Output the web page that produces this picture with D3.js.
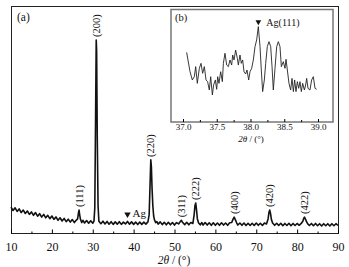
<!DOCTYPE html>
<html>
<head>
<meta charset="utf-8">
<script src="https://cdn.jsdelivr.net/npm/d3@7"></script>
<style>
body { margin: 0; background: #fff; }
text { font-family: "Liberation Serif", "DejaVu Serif", serif; fill: #111; }
</style>
</head>
<body>
<script>
// Size of the picture
var w = 349;
var h = 267;

// Main XRD pattern: [2theta, intensity]
var mainPattern = [
    [10,114],[10.5,99],[11,111],[11.5,95],[12,106],[12.5,90],[13,101],[13.5,86],[14,97],[14.5,82],
    [15,93],[15.5,78],[16,90],[16.5,74],[17,85],[17.5,70],[18,82],[18.5,67],[19,78],[19.5,63],
    [20,75],[20.5,60],[21,71],[21.5,56],[22,67],[22.5,53],[23,64],[23.5,50],[24,61],[24.5,48],
    [25,59],[25.5,46],[26,57],[26.3,62],[26.5,88],[26.65,101],[26.8,80],[27,60],[27.3,46],[27.6,56],
    [28,44],[28.5,55],[29,43],[29.5,54],[30,43],[30.3,52],[30.5,110],[30.7,520],[30.85,850],[30.95,800],
    [31.1,430],[31.3,120],[31.5,52],[32,41],[32.5,52],[33,40],[33.5,51],[34,39],[34.5,50],[35,38],
    [35.5,49],[36,39],[36.5,50],[37,38],[37.5,48],[38,40],[38.5,51],[39,39],[39.5,49],[40,38],
    [40.5,48],[41,37],[41.5,48],[42,38],[42.5,48],[43,39],[43.5,49],[43.8,80],[44.0,200],[44.2,322],
    [44.35,290],[44.5,200],[44.7,120],[44.9,75],[45.1,58],[45.4,46],[45.7,50],[46,39],[46.5,49],[47,37],
    [47.5,47],[48,36],[48.5,47],[49,36],[49.5,46],[50,35],[50.5,46],[51,40],[51.4,50],[51.7,56],
    [52,46],[52.5,37],[53,47],[53.5,36],[54,46],[54.5,42],[54.8,80],[55,120],[55.2,132],[55.4,100],
    [55.6,62],[55.9,44],[56.3,36],[56.7,46],[57,35],[57.5,46],[58,35],[58.5,45],[59,34],[59.5,45],
    [60,34],[60.5,44],[61,34],[61.5,45],[62,35],[62.5,44],[63,34],[63.5,45],[64,46],[64.3,60],
    [64.6,70],[64.9,58],[65.2,45],[65.5,35],[66,44],[66.5,34],[67,44],[67.5,33],[68,43],[68.5,33],
    [69,43],[69.5,33],[70,44],[70.5,34],[71,43],[71.5,33],[72,44],[72.5,40],[72.9,62],[73.1,90],
    [73.3,101],[73.5,85],[73.7,60],[74,44],[74.5,34],[75,43],[75.5,33],[76,43],[76.5,32],[77,42],
    [77.5,33],[78,43],[78.5,32],[79,42],[79.5,33],[80,42],[80.5,34],[81,42],[81.4,52],[81.6,64],
    [81.8,70],[82,62],[82.3,50],[82.6,40],[83,33],[83.5,42],[84,32],[84.5,42],[85,32],[85.5,41],
    [86,31],[86.5,41],[87,32],[87.5,41],[88,31],[88.5,41],[89,32],[89.5,41],[90,33]
];

// Reflection labels and their positions
var hklLabels = ["(111)", "(200)", "(220)", "(311)", "(222)", "(400)", "(420)", "(422)"];
var hklTheta = [26.65, 30.85, 44.2, 51.7, 55.2, 64.6, 73.3, 81.8];
var hklHeight = [101, 850, 322, 56, 132, 70, 101, 70];

// Ag marker in the main pattern
var agMarker = [38.5, 82];

// Axis ticks
var mainTicks = [10, 20, 30, 40, 50, 60, 70, 80, 90];
var mainMinorTicks = [15, 25, 35, 45, 55, 65, 75, 85];
var insetTicks = [37.0, 37.5, 38.0, 38.5, 39.0];
var insetMinorTicks = [37.25, 37.75, 38.25, 38.75];

// Inset pattern around Ag(111): [2theta, intensity]
var insetPattern = [
    [37.054,61.6],[37.104,44.5],[37.138,37.2],[37.168,40.1],[37.188,49.0],[37.212,34.2],[37.242,47.5],[37.267,51.9],[37.291,43.1],[37.316,49.0],
    [37.341,37.2],[37.365,35.7],[37.390,28.3],[37.410,40.1],[37.435,23.9],[37.454,32.8],[37.479,37.2],[37.499,28.9],[37.514,40.1],[37.533,34.2],
    [37.558,44.5],[37.583,35.7],[37.598,51.9],[37.622,60.8],[37.647,50.4],[37.672,49.0],[37.696,54.9],[37.721,50.4],[37.736,59.3],[37.756,54.9],
    [37.780,63.7],[37.805,56.3],[37.820,50.4],[37.844,59.3],[37.864,51.9],[37.884,54.9],[37.904,44.5],[37.928,42.5],[37.948,46.0],[37.973,37.2],
    [37.993,44.5],[38.017,47.5],[38.042,54.9],[38.067,66.7],[38.091,72.6],[38.116,84.4],[38.141,66.7],[38.160,46.0],[38.180,26.9],[38.205,37.2],
    [38.225,51.9],[38.249,66.7],[38.274,71.1],[38.299,66.7],[38.319,49.0],[38.338,28.3],[38.363,47.5],[38.388,66.7],[38.412,71.1],[38.437,66.7],
    [38.457,49.0],[38.486,53.4],[38.511,47.5],[38.526,55.5],[38.546,46.0],[38.570,34.2],[38.595,28.3],[38.615,38.6],[38.635,26.9],[38.654,37.2],
    [38.674,26.9],[38.694,35.7],[38.714,29.8],[38.733,35.7],[38.753,26.9],[38.773,34.2],[38.798,28.3],[38.817,32.8],[38.832,38.6],[38.852,29.8],
    [38.881,28.3],[38.906,37.2],[38.931,40.1],[38.956,29.8],[38.980,28.9]
];
var agPeak = [38.116, 88.5];

// Main scales
var xScale = d3.scaleLinear().domain([10, 90]).range([11, 338]);
var yScale = d3.scaleLinear().domain([0, 1000]).range([233, 6]);

// Inset scales
var xiScale = d3.scaleLinear().domain([37, 39]).range([183, 318]);
var yiScale = d3.scaleLinear().domain([0, 100]).range([122, 9]);

var svg = d3.select("body")
    .append("svg")
    .attr("width", w)
    .attr("height", h);

// Main frame
svg.append("rect")
    .attr("x", 11.5).attr("y", 6.5)
    .attr("width", 327).attr("height", 227)
    .attr("fill", "none")
    .attr("stroke", "#222")
    .attr("stroke-width", 1);

// Bottom axis, ticks pointing inside
var xAxis = d3.axisBottom(xScale)
    .tickValues(mainTicks)
    .tickSize(-4)
    .tickPadding(9)
    .tickFormat(d3.format("d"));
var gx = svg.append("g")
    .attr("transform", "translate(0,233.5)")
    .call(xAxis);
gx.select(".domain").remove();
gx.attr("font-family", null);
gx.selectAll("text")
    .attr("font-size", "12px");

var xMinor = d3.axisBottom(xScale).tickValues(mainMinorTicks).tickSize(-2).tickFormat("");
svg.append("g").attr("transform", "translate(0,233.5)").call(xMinor)
    .select(".domain").remove();

// Axis title
var title = svg.append("text")
    .attr("x", 174)
    .attr("y", 264)
    .attr("text-anchor", "middle")
    .attr("font-size", "11.5px");
title.append("tspan").attr("font-style", "italic").text("2θ");
title.append("tspan").text(" / (°)");

// Panel label
svg.append("text")
    .attr("x", 17).attr("y", 21)
    .attr("font-size", "11.5px")
    .text("(a)");

// Pattern line
var line = d3.line()
    .x(function(d) { return xScale(d[0]); })
    .y(function(d) { return yScale(d[1]); });

svg.append("path")
    .datum(mainPattern)
    .attr("d", line)
    .attr("fill", "none")
    .attr("stroke", "#111")
    .attr("stroke-width", 1.6)
    .attr("stroke-linejoin", "round");

// Rotated reflection labels above the peaks
svg.selectAll(".hkl")
    .data(hklLabels)
    .enter()
    .append("text")
    .attr("class", "hkl")
    .attr("transform", function(d, i) {
        return "translate(" + xScale(hklTheta[i]) + "," + (yScale(hklHeight[i]) - 3) + ") rotate(-90)";
    })
    .attr("dy", "0.35em")
    .attr("font-size", "10.5px")
    .text(function(d) { return d; });

// Ag marker
svg.append("path")
    .attr("d", d3.symbol().type(d3.symbolTriangle).size(18))
    .attr("transform", "translate(" + xScale(agMarker[0]) + "," + yScale(agMarker[1]) + ") rotate(180)")
    .attr("fill", "#111");
svg.append("text")
    .attr("x", xScale(agMarker[0]) + 5)
    .attr("y", yScale(agMarker[1]) + 3)
    .attr("font-size", "11px")
    .text("Ag");

// Inset panel
var inset = svg.append("g");
inset.append("rect")
    .attr("x", 171).attr("y", 9.5)
    .attr("width", 162).attr("height", 112.5)
    .attr("fill", "#fff")
    .attr("stroke", "#777")
    .attr("stroke-width", 1.5);

var xiAxis = d3.axisBottom(xiScale)
    .tickValues(insetTicks)
    .tickSize(-3)
    .tickPadding(2)
    .tickFormat(d3.format(".1f"));
var gxi = inset.append("g")
    .attr("transform", "translate(0,122)")
    .call(xiAxis);
gxi.select(".domain").remove();
gxi.attr("font-family", null);
gxi.selectAll("text")
    .attr("font-size", "9px");

var xiMinor = d3.axisBottom(xiScale).tickValues(insetMinorTicks).tickSize(-2).tickFormat("");
inset.append("g").attr("transform", "translate(0,122)").call(xiMinor)
    .select(".domain").remove();

var ititle = inset.append("text")
    .attr("x", 251)
    .attr("y", 142)
    .attr("text-anchor", "middle")
    .attr("font-size", "9px");
ititle.append("tspan").attr("font-style", "italic").text("2θ");
ititle.append("tspan").text(" / (°)");

inset.append("text")
    .attr("x", 175).attr("y", 21)
    .attr("font-size", "10.5px")
    .text("(b)");

var iline = d3.line()
    .x(function(d) { return xiScale(d[0]); })
    .y(function(d) { return yiScale(d[1]); });

inset.append("path")
    .datum(insetPattern)
    .attr("d", iline)
    .attr("fill", "none")
    .attr("stroke", "#222")
    .attr("stroke-width", 0.9)
    .attr("stroke-linejoin", "round");

// Ag(111) marker in inset
inset.append("path")
    .attr("d", d3.symbol().type(d3.symbolTriangle).size(14))
    .attr("transform", "translate(" + xiScale(agPeak[0]) + "," + yiScale(agPeak[1]) + ") rotate(180)")
    .attr("fill", "#111");
inset.append("text")
    .attr("x", xiScale(agPeak[0]) + 8)
    .attr("y", yiScale(agPeak[1]) + 4)
    .attr("font-size", "10px")
    .text("Ag(111)");
</script>
</body>
</html>
